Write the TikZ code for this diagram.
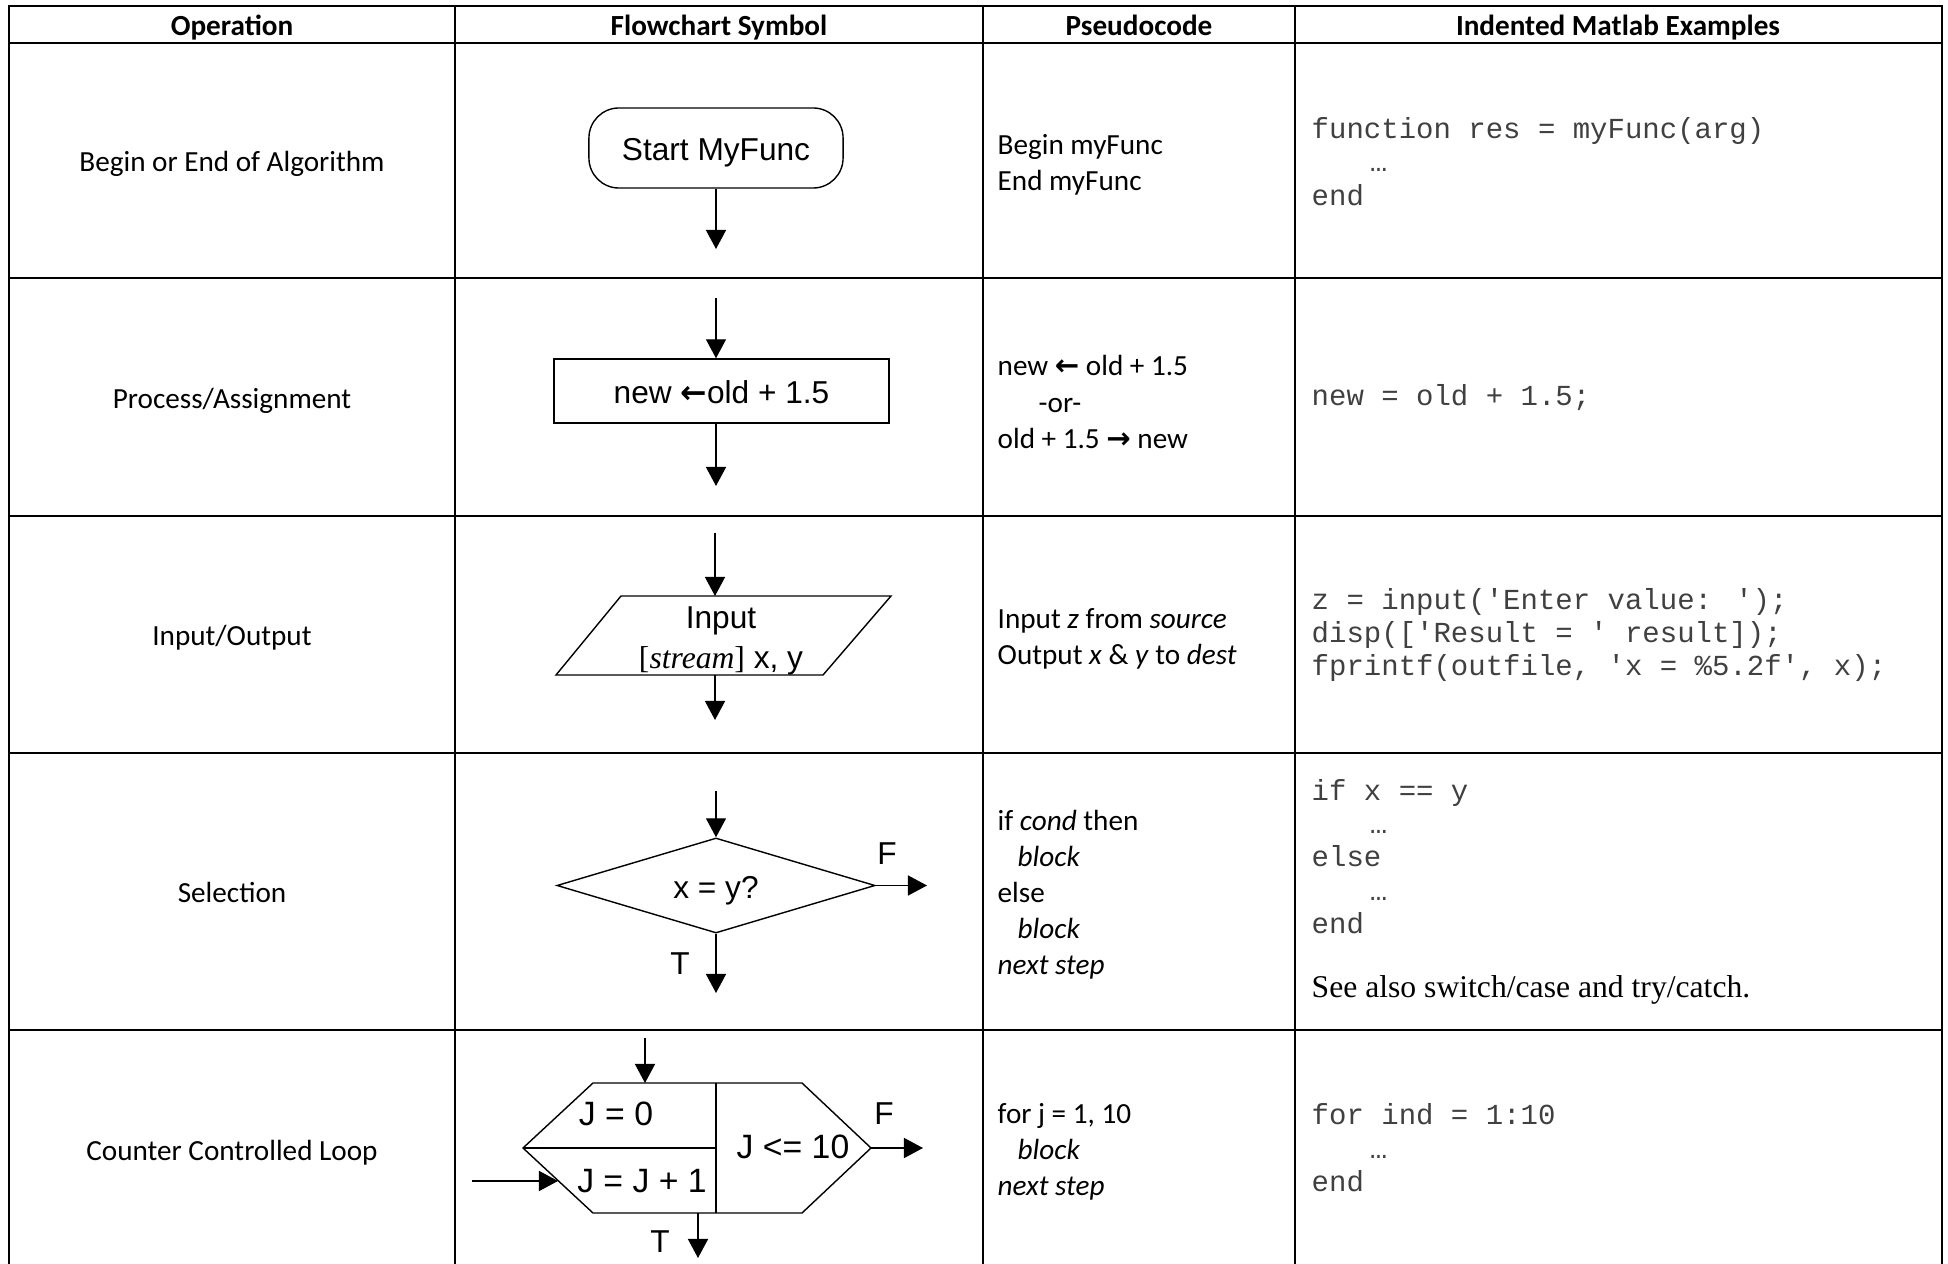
\documentclass[tikz,border=0pt]{standalone}
\usepackage{fontspec}
\setmainfont{Carlito}
\newfontfamily\chartfont{Liberation Sans}
\newfontfamily\codefont{Liberation Mono}
\newfontfamily\serifnote{Liberation Serif}
\newfontfamily\arrowglyph{DejaVu Sans}
\usepackage{tikz}
\usetikzlibrary{arrows.meta,positioning,calc,shapes.geometric}
\tikzset{>={Triangle[length=0.19cm,width=0.2cm]}}
\tikzset{
tabline/.style={line width=0.55pt},
flow/.style={line width=0.4pt},
hdr/.style={font=\fontsize{8.3}{10}\selectfont\bfseries, inner sep=0, text height=0.65em, text depth=0.25em},
optext/.style={font=\fontsize{8.3}{10}\selectfont, inner sep=0, text height=0.65em, text depth=0.25em},
pseudo/.style={font=\fontsize{8.3}{10.25}\selectfont, align=left, anchor=west, inner sep=0},
matlab/.style={font=\fontsize{8.25}{9.5}\codefont, align=left, anchor=west, inner sep=0, text=black!75},
cfont/.style={font=\fontsize{9}{11.5}\chartfont, inner sep=0},
chart/.style={cfont, text height=0.72em, text depth=0pt},
term/.style={chart, draw, flow, rounded corners=0.3cm, minimum width=2.54cm, minimum height=0.8cm},
procbox/.style={chart, draw, flow, minimum width=3.35cm, minimum height=0.64cm},
decision/.style={chart, draw, flow, diamond, shape aspect=3.3, minimum width=3.18cm, minimum height=0.95cm}
}

\begin{document}
\begin{tikzpicture}[x=0.01cm,y=-0.01cm]
\useasboundingbox (0,0) rectangle (1948,1264);
% table
\draw[tabline] (9,1264) -- (9,6) -- (1942,6) -- (1942,1264);
\foreach \y in {43,278,516,753,1030} \draw[tabline] (9,\y) -- (1942,\y);
\foreach \x in {455,983,1295} \draw[tabline] (\x,6) -- (\x,1264);
% headers
\node[hdr] (h1) at (232,28) {Operation};
\node[hdr] (h2) at (719,28) {Flowchart Symbol};
\node[hdr] (h3) at (1139,28) {Pseudocode};
\node[hdr] (h4) at (1618,28) {Indented Matlab Examples};
% operations
\node[optext] (op1) at (232,164) {Begin or End of Algorithm};
\node[optext] (op2) at (232,401) {Process/Assignment};
\node[optext] (op3) at (232,638) {Input/Output};
\node[optext] (op4) at (232,895) {Selection};
\node[optext] (op5) at (232,1153) {Counter Controlled Loop};
% begin/end
\node[term] (start) at (716,148) {Start MyFunc};
\coordinate (start-out) at (716,249);
\draw[->,flow] (start) -- (start-out);
% assignment
\coordinate (asg-in) at (716,298);
\node[procbox] (asg) at (721.5,391) {new {\arrowglyph\bfseries ←}old + 1.5};
\coordinate (asg-out) at (716,486);
\draw[->,flow] (asg-in) -- (asg-in |- asg.north);
\draw[->,flow] (asg-in |- asg.south) -- (asg-out);
% input/output
\coordinate (io-sw) at (556,675);
\coordinate (io-nw) at (621,596);
\coordinate (io-ne) at (891,596);
\coordinate (io-se) at (823,675);
\draw[flow] (io-sw) -- (io-nw) -- (io-ne) -- (io-se) -- cycle;
\node[cfont,align=center] (io-text) at (721,641) {Input\\{\serifnote[\textit{stream}]} x, y};
\coordinate (io-in) at (715,533);
\coordinate (io-top) at (715,596);
\coordinate (io-bot) at (715,675);
\coordinate (io-out) at (715,720);
\draw[->,flow] (io-in) -- (io-top);
\draw[->,flow] (io-bot) -- (io-out);
% selection
\coordinate (sel-in) at (716,791);
\node[decision] (sel) at (716,885.5) {x = y?};
\coordinate (sel-f) at (927,885.5);
\coordinate (sel-t) at (716,993);
\draw[->,flow] (sel-in) -- (sel.north);
\draw[->,flow] (sel.east) -- (sel-f);
\draw[->,flow] (sel.south) -- (sel-t);
\node[chart] (f1) at (887,852) {F};
\node[chart] (t1) at (680,962) {T};
% counter loop
\coordinate (lp-w) at (523,1148);
\coordinate (lp-nw) at (593,1083);
\coordinate (lp-ne) at (802,1083);
\coordinate (lp-e) at (871,1148);
\coordinate (lp-se) at (802,1213);
\coordinate (lp-sw) at (593,1213);
\coordinate (lp-n) at (716,1083);
\coordinate (lp-s) at (716,1213);
\coordinate (lp-mid) at (716,1148);
\draw[flow] (lp-w) -- (lp-nw) -- (lp-ne) -- (lp-e) -- (lp-se) -- (lp-sw) -- cycle;
\draw[flow] (lp-n) -- (lp-s);
\draw[flow] (lp-w) -- (lp-mid);
\node[chart,font=\fontsize{9.6}{12}\chartfont] (jinit) at (616,1113) {J = 0};
\node[chart,font=\fontsize{9.6}{12}\chartfont] (jstep) at (642,1180) {J = J + 1};
\node[chart,font=\fontsize{9.6}{12}\chartfont] (jtest) at (793,1146) {J <= 10};
\coordinate (lp-in) at (645,1038);
\coordinate (lp-back) at (472,1181);
\coordinate (lp-hit) at (558,1181);
\coordinate (lp-f) at (923,1148);
\coordinate (lp-tt) at (698,1213);
\coordinate (lp-t) at (698,1258);
\draw[->,flow] (lp-in) -- (lp-in |- lp-nw);
\draw[->,flow] (lp-back) -- (lp-hit);
\draw[->,flow] (lp-e) -- (lp-f);
\draw[->,flow] (lp-tt) -- (lp-t);
\node[chart] (f2) at (884,1112) {F};
\node[chart] (t2) at (660,1240) {T};
% pseudocode
\node[pseudo] (ps1) at (997,165) {Begin myFunc\\End myFunc};
\node[pseudo] (ps2) at (997,402) {new {\arrowglyph\bfseries ←} old + 1.5\\\hspace*{0.41cm}-or-\\old + 1.5 {\arrowglyph\bfseries →} new};
\node[pseudo] (ps3) at (997,638.5) {Input \textit{z} from \textit{source}\\Output \textit{x} \& \textit{y} to \textit{dest}};
\node[pseudo] (ps4) at (997,895) {if \textit{cond} then\\\hspace*{0.2cm}\textit{block}\\else\\\hspace*{0.2cm}\textit{block}\\\textit{next step}};
\node[pseudo] (ps5) at (997,1152) {for j = 1, 10\\\hspace*{0.2cm}\textit{block}\\\textit{next step}};
% matlab
\node[matlab] (ml1) at (1311,161.5) {function res = myFunc(arg)\\\hspace*{0.58cm}…\\end};
\node[matlab] (ml2) at (1311,398) {new = old + 1.5;};
\node[matlab] (ml3) at (1311,635) {z = input('Enter value: ');\\disp(['Result = ' result]);\\fprintf(outfile, 'x = \%5.2f', x);};
\node[matlab] (ml4) at (1311,856.5) {if x == y\\\hspace*{0.58cm}…\\else\\\hspace*{0.58cm}…\\end};
\node[anchor=west,inner sep=0,font=\fontsize{9}{11}\serifnote] (note) at (1311,990) {See also switch/case and try/catch.};
\node[matlab] (ml5) at (1311,1148) {for ind = 1:10\\\hspace*{0.58cm}…\\end};
\end{tikzpicture}
\end{document}
